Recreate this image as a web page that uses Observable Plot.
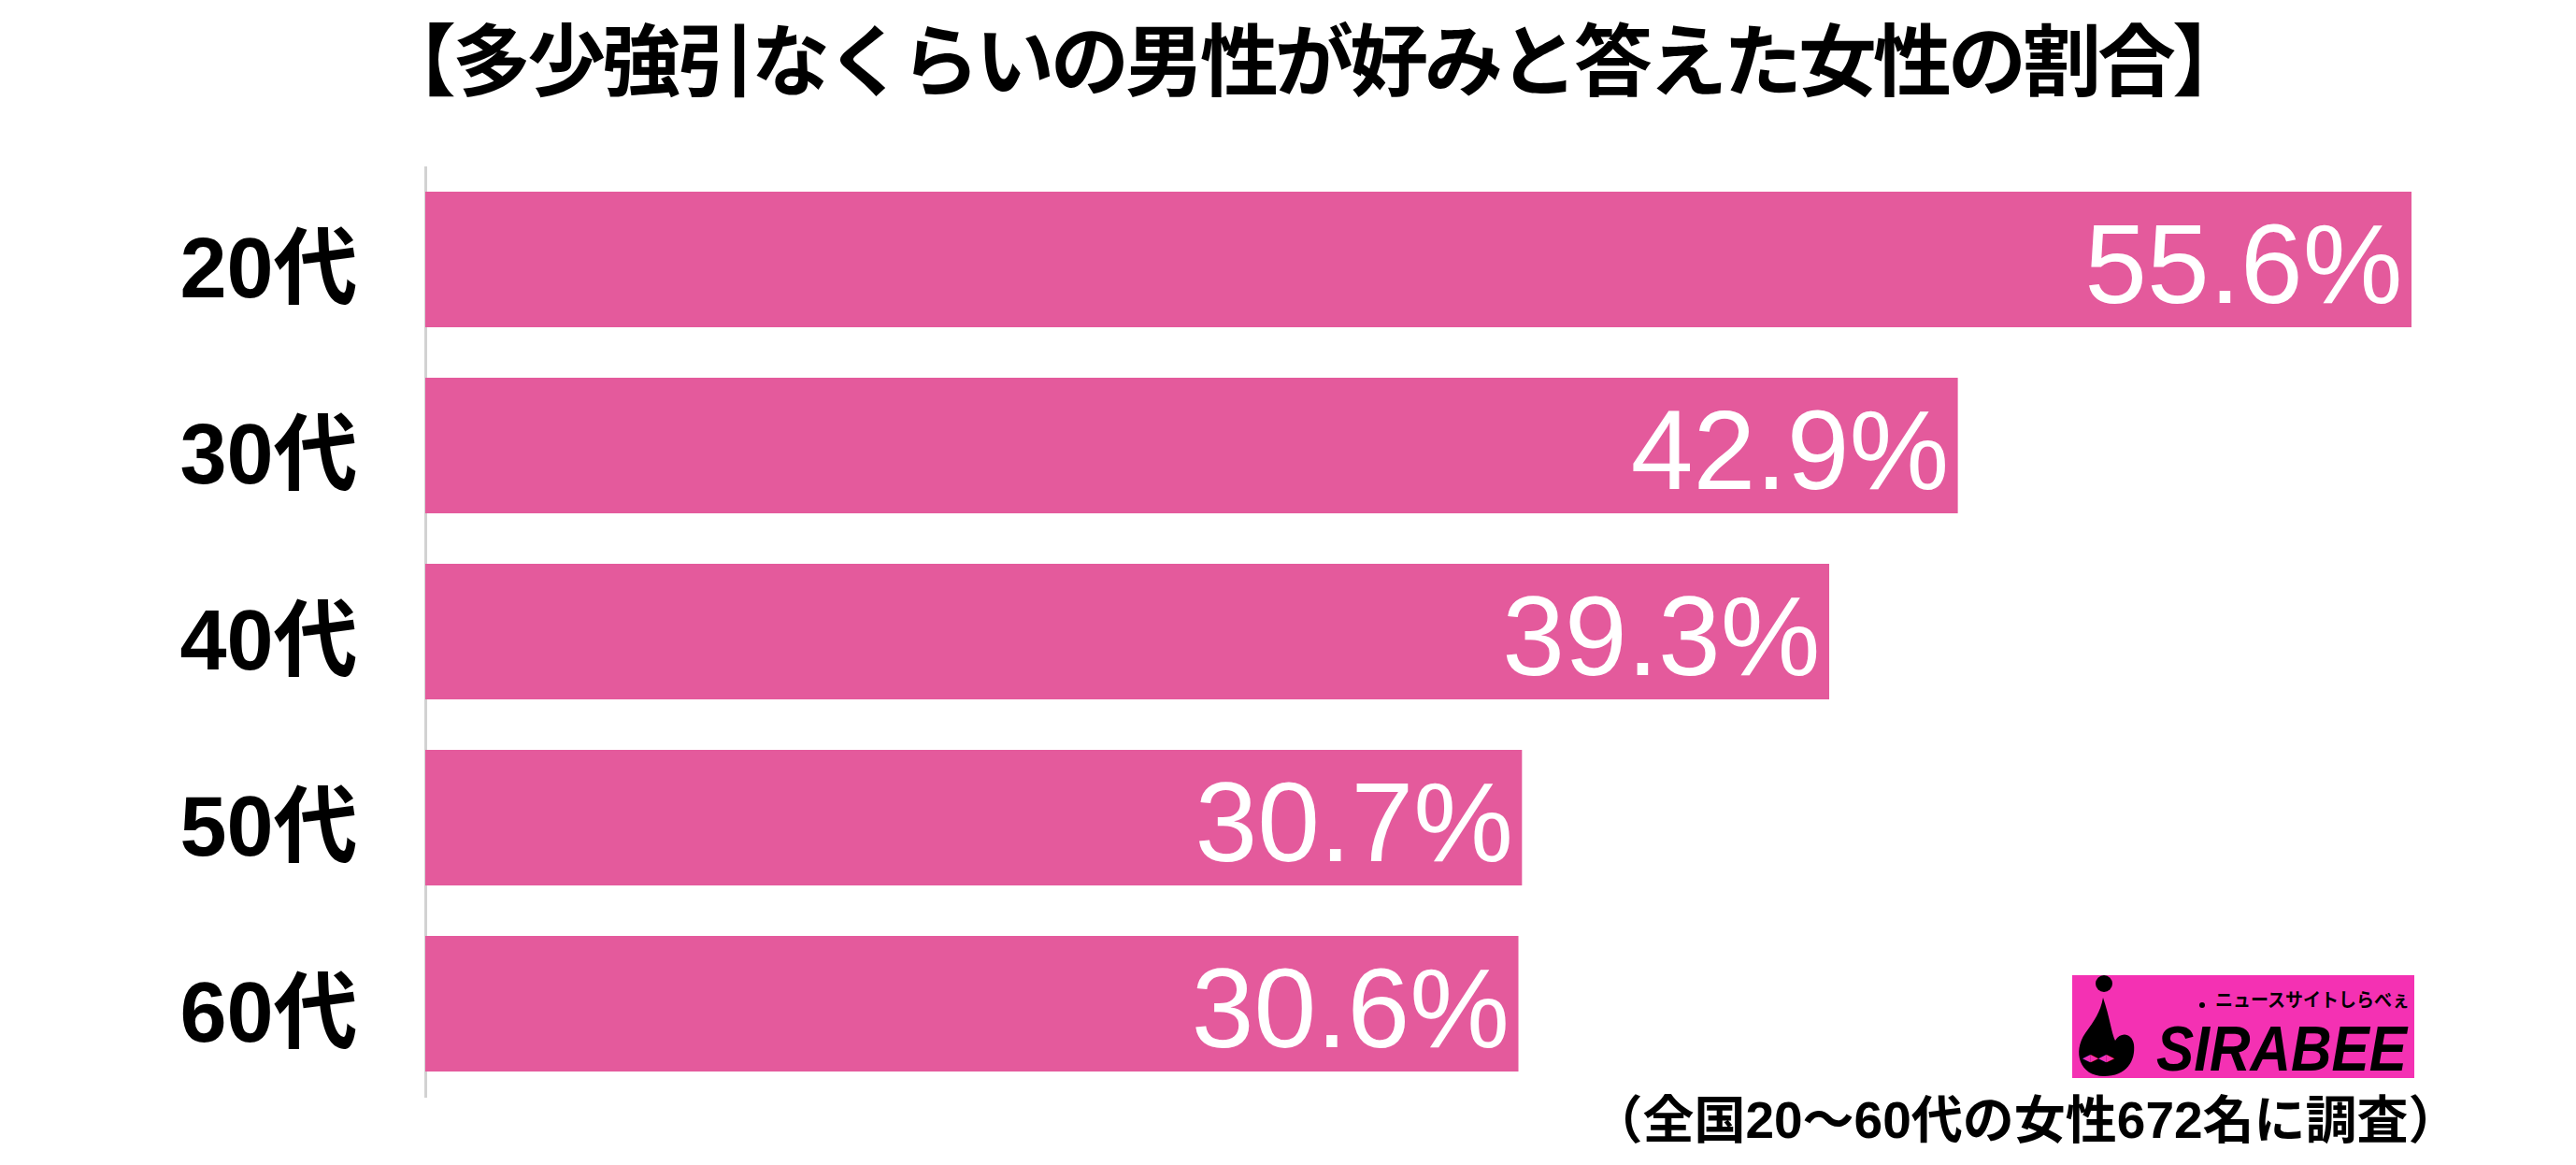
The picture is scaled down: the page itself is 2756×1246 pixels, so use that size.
<!DOCTYPE html>
<html>
<head>
<meta charset="utf-8">
<script src="https://cdn.jsdelivr.net/npm/d3@7"></script>
<script src="https://cdn.jsdelivr.net/npm/@observablehq/plot@0.6"></script>
<style>
  html, body { margin: 0; padding: 0; background: #fff; }
  body { width: 2756px; height: 1246px; position: relative; overflow: hidden; }
  #title {
    position: absolute; left: 0; top: 0; width: 2808px; height: 120px;
    line-height: 120px; text-align: center;
    font-family: "Noto Sans CJK JP", sans-serif; font-weight: 700;
    font-size: 84px; letter-spacing: -4px; color: #000; white-space: nowrap;
  }
  #chart { position: absolute; left: 0; top: 120px; }
  #caption {
    position: absolute; left: 1567px; width: 1200px; top: 1166px; height: 64px;
    line-height: 64px; text-align: center;
    font-family: "Liberation Sans", "Noto Sans CJK JP", sans-serif; font-weight: 700;
    font-size: 55px; color: #000; white-space: nowrap;
  }
  #logo { position: absolute; left: 2217px; top: 1043px; overflow: visible; }
</style>
</head>
<body>
<div id="title">【多少強引なくらいの男性が好みと答えた女性の割合】</div>
<div id="chart"></div>
<div id="caption">（全国20〜60代の女性672名に調査）</div>
<svg id="logo" width="366" height="110" viewBox="0 0 366 110">
  <rect x="0" y="0" width="366" height="110" fill="#F431B3"/>
  <circle cx="34" cy="9" r="9" fill="#000"/>
  <path d="M33 24 C 30 40, 24 48, 14 62 C 0 82, 8 108, 34 108 C 58 108, 68 92, 66 74 C 64 62, 52 60, 46 70 C 42 62, 40 44, 33 24 Z" fill="#000"/>
  <text x="11" y="92" font-size="11" fill="#F431B3" font-family="DejaVu Sans">◀▶◀▶</text>
  <circle cx="139" cy="32" r="3" fill="#000"/>
  <text x="153" y="34" font-family="Noto Sans CJK JP" font-weight="700" font-size="20" textLength="208" lengthAdjust="spacingAndGlyphs" fill="#000">ニュースサイトしらべぇ</text>
  <text x="90" y="102" font-family="Liberation Sans Narrow, Liberation Sans" font-weight="700" font-style="italic" font-size="68" textLength="268" lengthAdjust="spacingAndGlyphs" fill="#000">SIRABEE</text>
</svg>
<script>
const categories = ["20代", "30代", "40代", "50代", "60代"];
const values = [55.6, 42.9, 39.3, 30.7, 30.6];
const valueLabels = ["55.6%", "42.9%", "39.3%", "30.7%", "30.6%"];

const data = categories.map((c, i) => ({age: c, value: values[i], label: valueLabels[i]}));

const chart = Plot.plot({
  width: 2756,
  height: 1126,
  marginTop: 58,
  marginBottom: 72,
  marginLeft: 455,
  marginRight: 176,
  style: {background: "#fff", fontFamily: "'Liberation Sans', 'Noto Sans CJK JP', sans-serif", color: "#000"},
  x: {axis: null, domain: [0, d3.max(values)]},
  y: {domain: categories, paddingInner: 0.27, paddingOuter: 0.125, axis: null, label: null},
  marks: [
    Plot.ruleX([0], {stroke: "#d2d2d2", strokeWidth: 3}),
    Plot.barX(data, {x: "value", y: "age", fill: "#E45A9C"}),
    Plot.axisY({tickSize: 0, tickPadding: 73, fontSize: 90, fontWeight: "bold", color: "#000", dy: 11, label: null}),
    Plot.text(data, {x: "value", y: "age", text: "label", textAnchor: "end", dx: -10, dy: 8,
      fill: "#fff", fontSize: 120, fontFamily: "Liberation Sans"})
  ]
});
document.getElementById("chart").appendChild(chart);
</script>
</body>
</html>
